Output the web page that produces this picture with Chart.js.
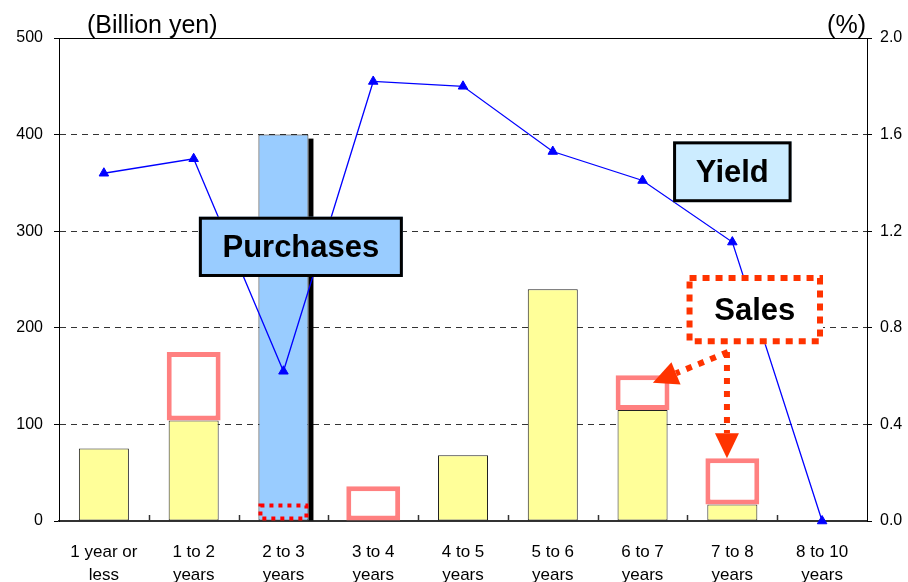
<!DOCTYPE html>
<html>
<head>
<meta charset="utf-8">
<script src="https://cdn.jsdelivr.net/npm/chart.js@4.4.0/dist/chart.umd.min.js"></script>
<style>
html, body { margin: 0; padding: 0; background: #fff; }
#wrap { width: 908px; height: 582px; }
</style>
</head>
<body>
<div id="wrap"><canvas id="bondChart" width="908" height="582"></canvas></div>
<script>
// ===== DATA ===== //
const maturities = [
    ['1 year or', 'less'], ['1 to 2', 'years'], ['2 to 3', 'years'],
    ['3 to 4', 'years'], ['4 to 5', 'years'], ['5 to 6', 'years'],
    ['6 to 7', 'years'], ['7 to 8', 'years'], ['8 to 10', 'years']
];
// remaining holdings (billion yen)
const holdings = [75, 104, null, null, 68, 240, 115, 17, null];
// purchases (billion yen)
const purchases = [null, null, 400, null, null, null, null, null, null];
// sales, drawn as open boxes [from, to]
const sales = [null, [104, 175], null, [0, 36], null, null, [115, 151], [17, 65], null];
// sales within the purchased zone (dotted box)
const salesInPurchase = [null, null, [0, 18], null, null, null, null, null, null];
// yield (%)
const yields = [1.44, 1.50, 0.62, 1.82, 1.80, 1.53, 1.41, 1.155, 0.0];

const leftTicks = [0, 100, 200, 300, 400, 500];
const rightTicks = [0.0, 0.4, 0.8, 1.2, 1.6, 2.0];

const FONT = '"Liberation Sans", Arial, Helvetica, sans-serif';
const SALES_RED = '#ff3300';

// ===== HELPERS ===== //
function dottedRect(ctx, x0, y0, x1, y1, w, dash, color) {
    ctx.save();
    ctx.strokeStyle = color;
    ctx.lineWidth = w;
    ctx.setLineDash(dash);
    ctx.lineCap = 'butt';
    ctx.strokeRect(x0 + w / 2, y0 + w / 2, x1 - x0 - w, y1 - y0 - w);
    ctx.restore();
}

function labelBox(ctx, x0, y0, x1, y1, fill, text) {
    ctx.save();
    ctx.fillStyle = fill;
    ctx.fillRect(x0, y0, x1 - x0, y1 - y0);
    ctx.strokeStyle = '#000';
    ctx.lineWidth = 3;
    ctx.strokeRect(x0 + 1.5, y0 + 1.5, x1 - x0 - 3, y1 - y0 - 3);
    ctx.fillStyle = '#000';
    ctx.font = 'bold 31px ' + FONT;
    ctx.textAlign = 'center';
    ctx.textBaseline = 'middle';
    ctx.fillText(text, (x0 + x1) / 2, (y0 + y1) / 2 + 2);
    ctx.restore();
}

function dottedArrow(ctx, xs, ys, xe, ye) {
    const ang = Math.atan2(ye - ys, xe - xs);
    const headLen = 25, headHalf = 12;
    const bx = xe - Math.cos(ang) * headLen;
    const by = ye - Math.sin(ang) * headLen;
    ctx.save();
    ctx.strokeStyle = SALES_RED;
    ctx.fillStyle = SALES_RED;
    ctx.lineWidth = 6;
    ctx.setLineDash([6, 7]);
    ctx.beginPath();
    ctx.moveTo(xs, ys);
    ctx.lineTo(bx, by);
    ctx.stroke();
    ctx.setLineDash([]);
    ctx.beginPath();
    ctx.moveTo(xe, ye);
    ctx.lineTo(bx + Math.sin(ang) * headHalf, by - Math.cos(ang) * headHalf);
    ctx.lineTo(bx - Math.sin(ang) * headHalf, by + Math.cos(ang) * headHalf);
    ctx.closePath();
    ctx.fill();
    ctx.restore();
}

// ===== PLUGINS ===== //
const barExtras = {
    id: 'barExtras',
    afterDatasetDraw(chart, args) {
        const ctx = chart.ctx;
        const ds = chart.data.datasets[args.index];
        if (ds.label === 'Purchases') {
            // black drop shadow on the right side of the purchase bar
            args.meta.data.forEach((bar, i) => {
                if (purchases[i] == null) return;
                const p = bar.getProps(['x', 'y', 'base', 'width'], true);
                ctx.save();
                ctx.fillStyle = '#000';
                ctx.fillRect(p.x + p.width / 2, p.y + 4, 5, p.base - p.y - 4);
                ctx.restore();
            });
        }
        if (ds.label === 'Sales (purchased zone)') {
            args.meta.data.forEach((bar, i) => {
                if (salesInPurchase[i] == null) return;
                const p = bar.getProps(['x', 'y', 'base', 'width'], true);
                dottedRect(ctx, p.x - p.width / 2, p.y, p.x + p.width / 2, p.base, 4, [4, 5], '#ff0000');
            });
        }
    }
};

const notes = {
    id: 'notes',
    afterDraw(chart) {
        const { ctx, chartArea: a, scales: { x, y } } = chart;
        const px = v => x.getPixelForValue(v);
        const py = v => y.getPixelForValue(v);

        ctx.save();
        // top frame line
        ctx.strokeStyle = '#000';
        ctx.lineWidth = 1;
        ctx.beginPath();
        ctx.moveTo(a.left, a.top + 0.5);
        ctx.lineTo(a.right, a.top + 0.5);
        ctx.stroke();

        // small inner ticks between categories
        ctx.strokeStyle = '#333';
        ctx.lineWidth = 1.5;
        for (let i = 0; i < maturities.length - 1; i++) {
            const tx = Math.round(px(i + 0.5)) + 0.5;
            ctx.beginPath();
            ctx.moveTo(tx, a.bottom);
            ctx.lineTo(tx, a.bottom - 6);
            ctx.stroke();
        }

        // unit labels
        ctx.fillStyle = '#000';
        ctx.font = '25px ' + FONT;
        ctx.textBaseline = 'alphabetic';
        ctx.textAlign = 'left';
        ctx.fillText('(Billion yen)', a.left + 28, a.top - 5);
        ctx.textAlign = 'right';
        ctx.fillText('(%)', a.right - 1, a.top - 5);
        ctx.restore();

        // annotation boxes
        labelBox(ctx, px(1.058), py(315), px(3.33), py(252.6), '#99ccff', 'Purchases');
        labelBox(ctx, px(6.34), py(393), px(7.66), py(330), '#ccecff', 'Yield');

        // sales box with dotted border
        const sx0 = px(6.49), sx1 = px(8.01), sy0 = py(254.7), sy1 = py(183);
        ctx.save();
        ctx.fillStyle = '#fff';
        ctx.fillRect(sx0, sy0, sx1 - sx0, sy1 - sy0);
        ctx.restore();
        dottedRect(ctx, sx0, sy0, sx1, sy1, 6, [7, 6], SALES_RED);
        ctx.save();
        ctx.fillStyle = '#000';
        ctx.font = 'bold 31px ' + FONT;
        ctx.textAlign = 'center';
        ctx.textBaseline = 'middle';
        ctx.fillText('Sales', (sx0 + sx1) / 2, (sy0 + sy1) / 2 + 2);
        ctx.restore();

        // arrows from the sales box
        dottedArrow(ctx, px(6.95), py(175), px(6.115), py(143));
        dottedArrow(ctx, px(6.94), py(175), px(6.94), py(65));
    }
};

// ===== CHART ===== //
const ctx = document.getElementById('bondChart').getContext('2d');
const bondChart = new Chart(ctx, {
    data: {
        labels: maturities,
        datasets: [
            {
                type: 'line',
                label: 'Yield',
                data: yields,
                yAxisID: 'y2',
                borderColor: '#0000ff',
                borderWidth: 1.3,
                pointStyle: 'triangle',
                pointRadius: 5.5,
                pointBackgroundColor: '#0000ff',
                pointBorderColor: '#0000ff',
                pointBorderWidth: 1,
                tension: 0,
                clip: false,
                order: 0
            },
            {
                type: 'bar',
                label: 'Sales',
                data: sales,
                yAxisID: 'y',
                backgroundColor: '#ffffff',
                borderColor: '#ff8080',
                borderWidth: 5,
                borderSkipped: false,
                barPercentage: 0.6,
                categoryPercentage: 1,
                grouped: false,
                order: 1
            },
            {
                type: 'bar',
                label: 'Sales (purchased zone)',
                data: salesInPurchase,
                yAxisID: 'y',
                backgroundColor: 'rgba(0,0,0,0)',
                borderWidth: 0,
                barPercentage: 0.557,
                categoryPercentage: 1,
                grouped: false,
                order: 2
            },
            {
                type: 'bar',
                label: 'Purchases',
                data: purchases,
                yAxisID: 'y',
                backgroundColor: '#99ccff',
                borderColor: '#222',
                borderWidth: 1,
                borderSkipped: false,
                barPercentage: 0.557,
                categoryPercentage: 1,
                grouped: false,
                order: 3
            },
            {
                type: 'bar',
                label: 'Holdings',
                data: holdings,
                yAxisID: 'y',
                backgroundColor: '#ffff99',
                borderColor: '#222',
                borderWidth: 1,
                borderSkipped: false,
                barPercentage: 0.557,
                categoryPercentage: 1,
                grouped: false,
                order: 4
            }
        ]
    },
    options: {
        responsive: false,
        animation: false,
        layout: { padding: { top: 38, left: 0, right: 0, bottom: 0 } },
        plugins: {
            legend: { display: false },
            tooltip: { enabled: false }
        },
        scales: {
            x: {
                offset: true,
                grid: { display: false },
                border: { display: true, color: '#333', width: 2 },
                ticks: {
                    color: '#000',
                    font: { family: FONT, size: 17, lineHeight: 1.4 },
                    padding: 11,
                    maxRotation: 0,
                    autoSkip: false
                },
                afterFit: s => { s.height = 61; }
            },
            y: {
                position: 'left',
                min: 0,
                max: 500,
                afterBuildTicks: s => { s.ticks = leftTicks.map(v => ({ value: v })); },
                grid: {
                    color: c => (c.tick && (c.tick.value === 0 || c.tick.value === 500)) ? 'rgba(0,0,0,0)' : '#333',
                    tickColor: '#000',
                    tickLength: 5,
                    tickBorderDash: [],
                    lineWidth: 1
                },
                border: { display: true, color: '#000', width: 1, dash: [6, 5] },
                ticks: {
                    color: '#000',
                    font: { family: FONT, size: 16 },
                    padding: 11
                },
                afterFit: s => { s.width = 59; }
            },
            y2: {
                position: 'right',
                min: 0,
                max: 2.0,
                afterBuildTicks: s => { s.ticks = rightTicks.map(v => ({ value: v })); },
                grid: {
                    drawOnChartArea: false,
                    tickColor: '#000',
                    tickLength: 5,
                    tickBorderDash: []
                },
                border: { display: true, color: '#000', width: 1 },
                ticks: {
                    color: '#000',
                    font: { family: FONT, size: 16 },
                    padding: 8,
                    callback: v => Number(v).toFixed(1)
                },
                afterFit: s => { s.width = 41; }
            }
        }
    },
    plugins: [barExtras, notes]
});
</script>
</body>
</html>
